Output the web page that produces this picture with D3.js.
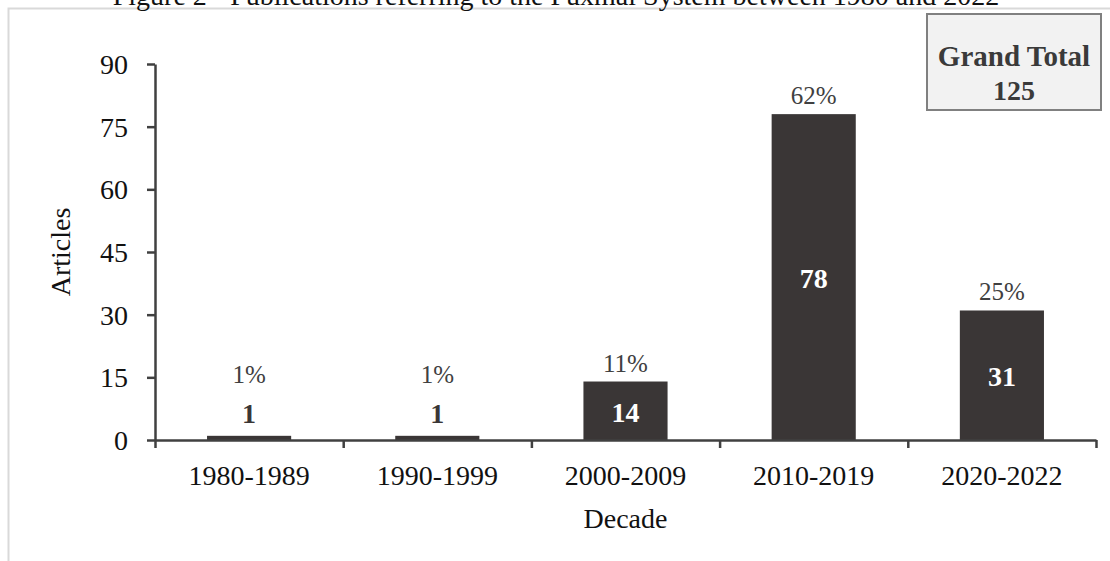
<!DOCTYPE html>
<html>
<head>
<meta charset="utf-8">
<script src="https://cdn.jsdelivr.net/npm/d3@7"></script>
<style>
  html, body { margin: 0; padding: 0; background: #fff; }
  svg { display: block; font-family: "Liberation Serif", "Times New Roman", serif; }
</style>
</head>
<body>
<svg id="chart" width="1110" height="561"></svg>
<script>
const categories = ["1980-1989", "1990-1999", "2000-2009", "2010-2019", "2020-2022"];
const articles = [1, 1, 14, 78, 31];
const percents = ["1%", "1%", "11%", "62%", "25%"];
const yTicks = [0, 15, 30, 45, 60, 75, 90];
const grandTotal = 125;
const titleText = "Figure 2 - Publications referring to the Puxmal System between 1980 and 2022";

(function () {
const svg = d3.select("#chart");
const W = 1110, H = 561;
const mLeft = 155, mRight = 1096, mTop = 64, mBottom = 440;
const barColor = "#3a3636";
const axisColor = "#404040";

// frame
svg.append("rect").attr("x", 8.5).attr("y", 8.5).attr("width", W + 20).attr("height", H + 20)
  .attr("fill", "none").attr("stroke", "#d9d9d9").attr("stroke-width", 2);

// title (clipped at top, as in the reference)
svg.append("text").attr("x", 556).attr("y", 5).attr("text-anchor", "middle")
  .attr("font-size", 28).attr("fill", "#111").text(titleText);

const x = d3.scaleBand().domain(categories).range([mLeft, mRight]).paddingInner(0.553).paddingOuter(0.2765);
const y = d3.scaleLinear().domain([0, 90]).range([mBottom, mTop]);
const xEdges = d3.scaleLinear().domain([0, categories.length]).range([mLeft, mRight]);

// y axis
const yAxis = svg.append("g").attr("transform", `translate(${mLeft},0)`)
  .call(d3.axisLeft(y).tickValues(yTicks).tickSize(8).tickPadding(19).tickSizeOuter(0));
yAxis.select(".domain").attr("stroke", axisColor).attr("stroke-width", 2.5);
yAxis.selectAll(".tick line").attr("stroke", axisColor).attr("stroke-width", 2.5);
yAxis.selectAll(".tick text").attr("font-size", 28).attr("fill", "#111")
  .attr("font-family", "Liberation Serif, serif").attr("dy", "0.34em");

// bars
svg.append("g").selectAll("rect").data(articles).join("rect")
  .attr("x", (d, i) => x(categories[i]))
  .attr("y", d => y(d))
  .attr("width", x.bandwidth())
  .attr("height", d => y(0) - y(d))
  .attr("fill", barColor);

// x axis: boundary ticks
const xAxis = svg.append("g").attr("transform", `translate(0,${mBottom})`)
  .call(d3.axisBottom(xEdges).tickValues(d3.range(categories.length + 1)).tickSize(8).tickFormat("").tickSizeOuter(0));
xAxis.select(".domain").attr("stroke", axisColor).attr("stroke-width", 2.5);
xAxis.selectAll(".tick line").attr("stroke", axisColor).attr("stroke-width", 2.5);

// x category labels
const xLab = svg.append("g").attr("transform", `translate(0,${mBottom})`)
  .call(d3.axisBottom(x).tickSize(0).tickPadding(45));
xLab.select(".domain").remove();
xLab.selectAll(".tick text").attr("font-size", 28).attr("fill", "#111")
  .attr("font-family", "Liberation Serif, serif").attr("dy", 0);

// value labels
svg.append("g").selectAll("text").data(articles).join("text")
  .attr("x", (d, i) => x(categories[i]) + x.bandwidth() / 2)
  .attr("y", d => (y(0) - y(d) > 40) ? (y(d) + y(0)) / 2 + 11 : y(d) - 13)
  .attr("text-anchor", "middle")
  .attr("font-size", 28).attr("font-weight", "bold")
  .attr("fill", d => (y(0) - y(d) > 40) ? "#fff" : barColor)
  .text(d => d);

// percent labels
svg.append("g").selectAll("text").data(articles).join("text")
  .attr("x", (d, i) => x(categories[i]) + x.bandwidth() / 2)
  .attr("y", d => (y(0) - y(d) > 40) ? y(d) - 10 : y(d) - 53)
  .attr("text-anchor", "middle")
  .attr("font-size", 25).attr("fill", "#404040")
  .text((d, i) => percents[i]);

// axis titles
svg.append("text").attr("transform", `translate(70,${(mTop + mBottom) / 2}) rotate(-90)`)
  .attr("text-anchor", "middle").attr("font-size", 28).attr("fill", "#111").text("Articles");
svg.append("text").attr("x", (mLeft + mRight) / 2).attr("y", 528)
  .attr("text-anchor", "middle").attr("font-size", 28).attr("fill", "#111").text("Decade");

// grand total box
const box = svg.append("g");
box.append("rect").attr("x", 927).attr("y", 14).attr("width", 174).attr("height", 96)
  .attr("fill", "#f2f2f2").attr("stroke", "#808080").attr("stroke-width", 2);
box.append("text").attr("x", 1014).attr("y", 66).attr("text-anchor", "middle")
  .attr("font-size", 29).attr("font-weight", "bold").attr("fill", "#3a3a3a").text("Grand Total");
box.append("text").attr("x", 1014).attr("y", 100).attr("text-anchor", "middle")
  .attr("font-size", 28).attr("font-weight", "bold").attr("fill", "#3a3a3a").text(grandTotal);
})();
</script>
</body>
</html>
